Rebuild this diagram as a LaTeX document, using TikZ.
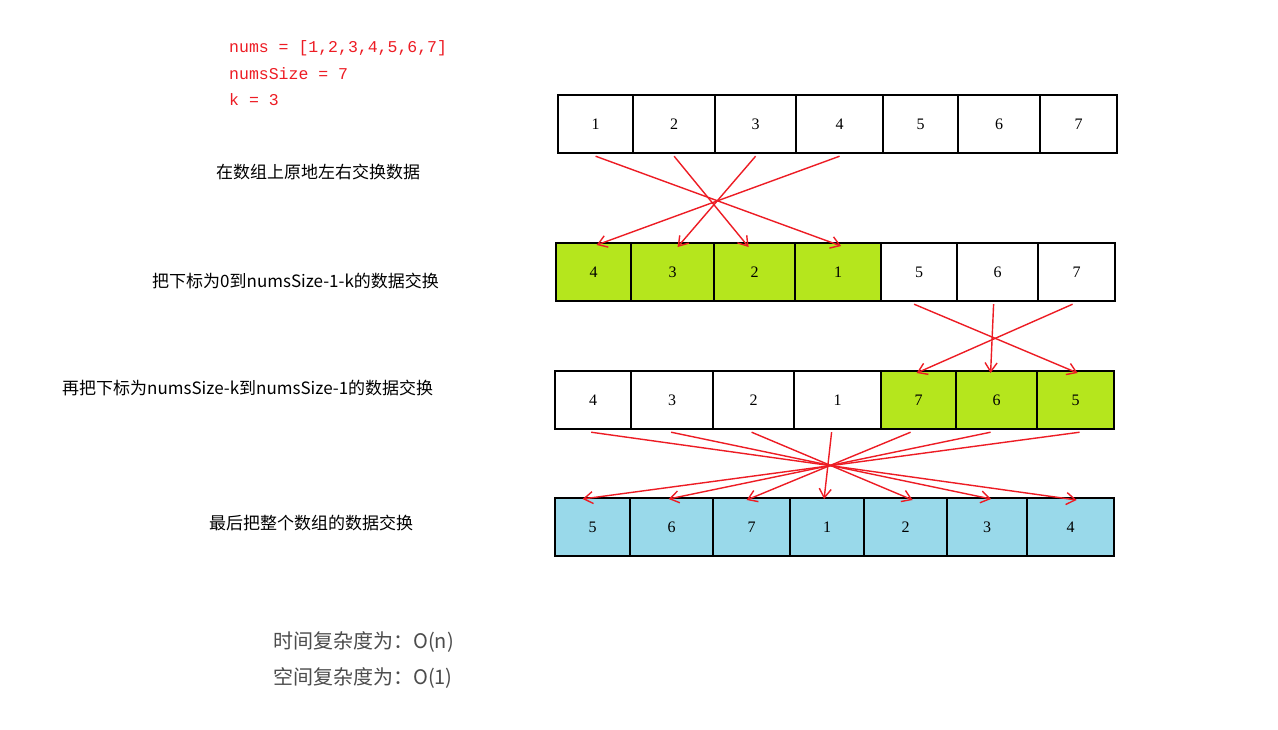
\documentclass[tikz,border=0pt]{standalone}
\usepackage{fontspec}
\setmainfont{Liberation Serif}
\setmonofont{Liberation Mono}
\newfontfamily\cjk{Noto Sans CJK SC}
\usetikzlibrary{arrows.meta}
\definecolor{rd}{HTML}{ED1C24}
\definecolor{gr}{HTML}{B5E61D}
\definecolor{bl}{HTML}{99D9EA}
\begin{document}
\begin{tikzpicture}[x=1pt,y=-1pt,
  cell/.style={draw=black,line width=2.2pt,anchor=north west,inner sep=0pt,font=\fontsize{16}{16}\selectfont},
  arr/.style={draw=rd,line width=1.4pt,-{Straight Barb[length=9pt,width=12pt]}},
  lab/.style={font=\cjk\fontsize{17}{17}\selectfont,anchor=west,inner sep=0pt},
  code/.style={font=\ttfamily\fontsize{16.5}{16.5}\selectfont,text=rd,anchor=west,inner sep=0pt}]
\useasboundingbox[fill=white] (0,0) rectangle (1278,729);
\node[code] (c1) at (229,48) {nums = [1,2,3,4,5,6,7]};
\node[code] (c2) at (229,74) {numsSize = 7};
\node[code] (c3) at (229,100) {k = 3};
\node[lab] (l1) at (216,172) {在数组上原地左右交换数据};
\node[lab] (l2) at (152,281) {把下标为0到numsSize-1-k的数据交换};
\node[lab] (l3) at (62,388) {再把下标为numsSize-k到numsSize-1的数据交换};
\node[lab] (l4) at (209,523) {最后把整个数组的数据交换};
\node[font=\cjk\fontsize{20}{20}\selectfont,text=black!70,anchor=west,inner sep=0pt] (t1) at (273,642) {时间复杂度为：O(n)};
\node[font=\cjk\fontsize{20}{20}\selectfont,text=black!70,anchor=west,inner sep=0pt] (t2) at (273,678) {空间复杂度为：O(1)};
% rows
\def\row#1#2#3#4#5{%
  \foreach \a/\b/\t/\f [count=\i] in {#3} {
    \node[cell,fill=\f,minimum width={\b-\a},minimum height=#2] (#1\i) at (\a,#4) {\t};
  }}
\row{a}{58}{557/632/1/white,632/714/2/white,714/795/3/white,795/882/4/white,882/957/5/white,957/1039/6/white,1039/1116/7/white}{94}{}
\row{b}{58}{555/630/4/gr,630/713/3/gr,713/794/2/gr,794/880/1/gr,880/956/5/white,956/1037/6/white,1037/1114/7/white}{242}{}
\row{c}{58}{554/630/4/white,630/712/3/white,712/793/2/white,793/880/1/white,880/955/7/gr,955/1036/6/gr,1036/1113/5/gr}{370}{}
\row{d}{58}{554/629/5/bl,629/712/6/bl,712/789/7/bl,789/863/1/bl,863/946/2/bl,946/1026/3/bl,1026/1113/4/bl}{497}{}
% arrows row1 -> row2
\draw[arr] ([yshift=-2pt]a1.south) -- ([xshift=3pt,yshift=-4pt]b4.north);
\draw[arr] ([yshift=-2pt]a2.south) -- ([xshift=-6pt,yshift=-5pt]b3.north);
\draw[arr] ([yshift=-2pt]a3.south) -- ([xshift=5pt,yshift=-5pt]b2.north);
\draw[arr] ([yshift=-2pt]a4.south) -- ([xshift=3pt,yshift=-3pt]b1.north);
% row2 -> row3
\draw[arr] ([xshift=-5pt,yshift=-2pt]b5.south) -- ([xshift=2pt,yshift=-3pt]c7.north);
\draw[arr] ([xshift=-4pt,yshift=-2pt]b6.south) -- ([xshift=-6pt,yshift=-3pt]c6.north);
\draw[arr] ([xshift=-4pt,yshift=-2pt]b7.south) -- ([xshift=-2pt,yshift=-3pt]c5.north);
% row3 -> row4
\draw[arr] ([xshift=-2pt,yshift=-2pt]c1.south) -- ([xshift=6pt,yshift=-3pt]d7.north);
\draw[arr] ([xshift=-1pt,yshift=-2pt]c2.south) -- ([xshift=4pt,yshift=-2pt]d6.north);
\draw[arr] ([xshift=-2pt,yshift=-2pt]c3.south) -- ([xshift=7pt,yshift=-3pt]d5.north);
\draw[arr] ([xshift=-6pt,yshift=-2pt]c4.south) -- ([xshift=-3pt,yshift=-2pt]d4.north);
\draw[arr] ([xshift=-8pt,yshift=-2pt]c5.south) -- ([xshift=-5pt,yshift=-3pt]d3.north);
\draw[arr] ([xshift=-6pt,yshift=-2pt]c6.south) -- ([xshift=-3pt,yshift=-2pt]d2.north);
\draw[arr] ([xshift=4pt,yshift=-2pt]c7.south) -- ([xshift=-10pt,yshift=-2pt]d1.north);
\end{tikzpicture}
\end{document}
